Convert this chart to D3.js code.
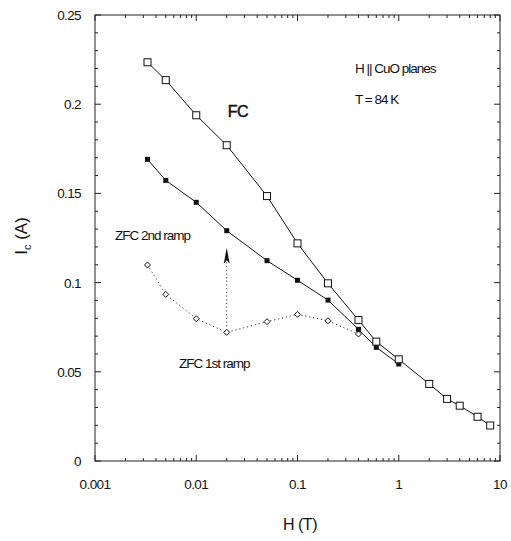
<!DOCTYPE html>
<html>
<head>
<meta charset="utf-8">
<script src="https://cdn.jsdelivr.net/npm/d3@7"></script>
<style>
  html, body { margin: 0; padding: 0; background: #fff; }
  svg { display: block; font-family: "Liberation Sans", Arial, sans-serif; }
  .tick-label { font-size: 13.5px; fill: #111; letter-spacing: -0.6px; }
  .note { font-size: 13.5px; fill: #111; letter-spacing: -1px; }
</style>
</head>
<body>
<svg id="chart" width="511" height="541"></svg>
<script>
// campo aplicado H (T)
const campoFC = [0.0033, 0.005, 0.01, 0.02, 0.05, 0.1, 0.2, 0.4, 0.6, 1, 2, 3, 4, 6, 8];
const icFC = [0.2235, 0.2135, 0.1938, 0.177, 0.1485, 0.122, 0.0996, 0.079, 0.0669, 0.057, 0.0432, 0.0348, 0.031, 0.0248, 0.0199];

const campoZFC2 = [0.0033, 0.005, 0.01, 0.02, 0.05, 0.1, 0.2, 0.4, 0.6, 1];
const icZFC2 = [0.1691, 0.1573, 0.145, 0.1291, 0.1123, 0.1013, 0.0902, 0.0738, 0.0637, 0.0544];

const campoZFC1 = [0.0033, 0.005, 0.01, 0.02, 0.05, 0.1, 0.2, 0.4];
const icZFC1 = [0.1099, 0.0934, 0.0798, 0.0721, 0.0781, 0.0822, 0.0786, 0.0712];

const ticksX = [0.001, 0.01, 0.1, 1, 10];
const etiquetasX = ["0.001", "0.01", "0.1", "1", "10"];
const ticksY = [0, 0.05, 0.1, 0.15, 0.2, 0.25];
const etiquetasY = ["0", "0.05", "0.1", "0.15", "0.2", "0.25"];

const width = 511;
const height = 541;
const margin = { top: 15, right: 11, bottom: 80, left: 95 };

const svg = d3.select("#chart");

const x = d3.scaleLog().domain([0.001, 10]).range([margin.left, width - margin.right]);
const y = d3.scaleLinear().domain([0, 0.25]).range([height - margin.bottom, margin.top]);

const x0 = margin.left, x1 = width - margin.right;
const y0 = height - margin.bottom, y1 = margin.top;
const colorEje = "#222";

// marco
svg.append("rect")
  .attr("x", x0).attr("y", y1)
  .attr("width", x1 - x0).attr("height", y0 - y1)
  .attr("fill", "none").attr("stroke", colorEje).attr("stroke-width", 1);

// ticks menores del eje x (log)
const menoresX = [];
for (let e = -3; e < 1; e++) {
  for (let k = 2; k <= 9; k++) menoresX.push(k * Math.pow(10, e));
}
const gTicks = svg.append("g").attr("stroke", colorEje).attr("stroke-width", 1);

menoresX.forEach(v => {
  gTicks.append("line").attr("x1", x(v)).attr("x2", x(v)).attr("y1", y0).attr("y2", y0 - 3);
  gTicks.append("line").attr("x1", x(v)).attr("x2", x(v)).attr("y1", y1).attr("y2", y1 + 3);
});
ticksX.forEach(v => {
  gTicks.append("line").attr("x1", x(v)).attr("x2", x(v)).attr("y1", y0).attr("y2", y0 - 6);
  gTicks.append("line").attr("x1", x(v)).attr("x2", x(v)).attr("y1", y1).attr("y2", y1 + 6);
});

// ticks del eje y
d3.range(0, 0.2501, 0.01).forEach(v => {
  const mayor = Math.abs(v / 0.05 - Math.round(v / 0.05)) < 1e-6;
  const largo = mayor ? 6 : 3;
  gTicks.append("line").attr("x1", x0).attr("x2", x0 + largo).attr("y1", y(v)).attr("y2", y(v));
  gTicks.append("line").attr("x1", x1).attr("x2", x1 - largo).attr("y1", y(v)).attr("y2", y(v));
});

// etiquetas de ticks
svg.selectAll(".lx")
  .data(ticksX)
  .join("text")
  .attr("class", "tick-label")
  .attr("x", d => x(d))
  .attr("y", y0 + 28)
  .attr("text-anchor", "middle")
  .text((d, i) => etiquetasX[i]);

svg.selectAll(".ly")
  .data(ticksY)
  .join("text")
  .attr("class", "tick-label")
  .attr("x", x0 - 14)
  .attr("y", d => y(d) + 5)
  .attr("text-anchor", "end")
  .text((d, i) => etiquetasY[i]);

// títulos de ejes
svg.append("text")
  .attr("x", 300).attr("y", 530)
  .attr("text-anchor", "middle")
  .attr("font-size", 16).attr("fill", "#111")
  .attr("letter-spacing", "-0.5px")
  .text("H (T)");

const tituloY = svg.append("text")
  .attr("transform", "translate(27,236) rotate(-90)")
  .attr("text-anchor", "middle")
  .attr("font-size", 17).attr("fill", "#111");
tituloY.append("tspan").text("I");
tituloY.append("tspan").attr("font-size", 11).attr("dy", 4).text("c");
tituloY.append("tspan").attr("dy", -4).text(" (A)");

// series
const linea = d3.line().x(d => x(d[0])).y(d => y(d[1]));

const datosFC = campoFC.map((h, i) => [h, icFC[i]]);
const datosZFC2 = campoZFC2.map((h, i) => [h, icZFC2[i]]);
const datosZFC1 = campoZFC1.map((h, i) => [h, icZFC1[i]]);

svg.append("path").datum(datosZFC1)
  .attr("d", linea).attr("fill", "none")
  .attr("stroke", "#333").attr("stroke-width", 1).attr("stroke-dasharray", "1.2,2.8");

svg.append("path").datum(datosZFC2)
  .attr("d", linea).attr("fill", "none")
  .attr("stroke", "#111").attr("stroke-width", 1);

svg.append("path").datum(datosFC)
  .attr("d", linea).attr("fill", "none")
  .attr("stroke", "#111").attr("stroke-width", 1);

// flecha punteada entre rampas
svg.append("line")
  .attr("x1", x(0.02)).attr("x2", x(0.02))
  .attr("y1", y(0.0755)).attr("y2", y(0.113))
  .attr("stroke", "#333").attr("stroke-width", 1).attr("stroke-dasharray", "1.2,2.5");
svg.append("path")
  .attr("d", `M${x(0.02)},${y(0.1195)} L${x(0.02) - 3},${y(0.1105)} L${x(0.02)},${y(0.1125)} L${x(0.02) + 3},${y(0.1105)} Z`)
  .attr("fill", "#111");

// marcadores
svg.selectAll(".diamante")
  .data(datosZFC1)
  .join("path")
  .attr("d", d => `M${x(d[0])},${y(d[1]) - 3} L${x(d[0]) + 3},${y(d[1])} L${x(d[0])},${y(d[1]) + 3} L${x(d[0]) - 3},${y(d[1])} Z`)
  .attr("fill", "#fff").attr("stroke", "#111").attr("stroke-width", 1);

svg.selectAll(".lleno")
  .data(datosZFC2)
  .join("rect")
  .attr("x", d => x(d[0]) - 2.5).attr("y", d => y(d[1]) - 2.5)
  .attr("width", 5).attr("height", 5)
  .attr("fill", "#111");

svg.selectAll(".abierto")
  .data(datosFC)
  .join("rect")
  .attr("x", d => x(d[0]) - 3.5).attr("y", d => y(d[1]) - 3.5)
  .attr("width", 7).attr("height", 7)
  .attr("fill", "#fff").attr("stroke", "#111").attr("stroke-width", 1);

// anotaciones
svg.append("text")
  .attr("x", 238).attr("y", 117)
  .attr("text-anchor", "middle")
  .attr("font-size", 16).attr("fill", "#111")
  .attr("stroke", "#111").attr("stroke-width", 0.5)
  .attr("letter-spacing", "-0.5px")
  .text("FC");

svg.append("text").attr("class", "note").attr("x", 355).attr("y", 73).text("H || CuO planes");
svg.append("text").attr("class", "note").attr("x", 355).attr("y", 104).text("T = 84 K");
svg.append("text").attr("class", "note").attr("x", 115).attr("y", 240).text("ZFC 2nd ramp");
svg.append("text").attr("class", "note").attr("x", 179).attr("y", 368).text("ZFC 1st ramp");
</script>
</body>
</html>
